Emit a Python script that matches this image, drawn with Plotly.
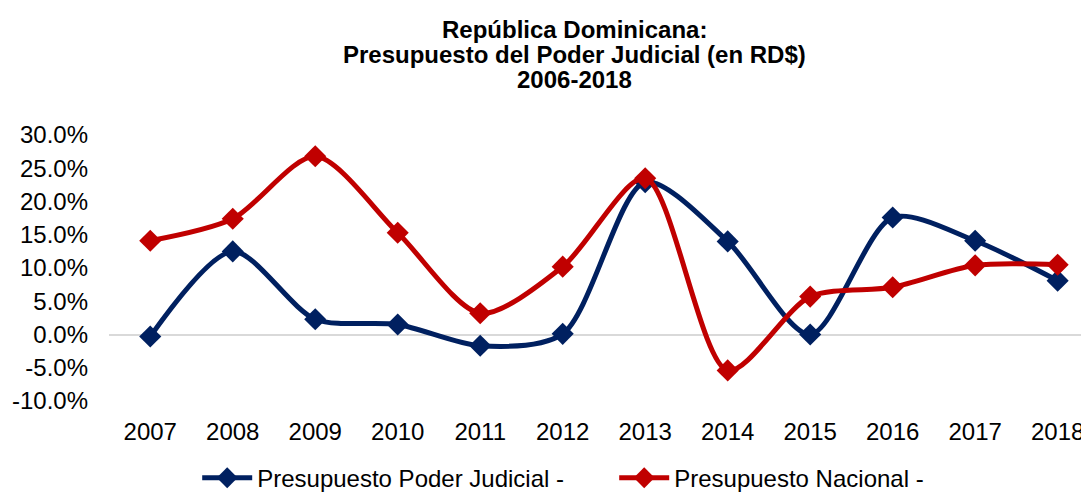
import plotly.graph_objects as go

years = ["2007", "2008", "2009", "2010", "2011", "2012", "2013", "2014", "2015", "2016", "2017", "2018"]
judicial = [-0.3, 12.5, 2.3, 1.5, -1.7, 0.1, 22.9, 14.0, 0.0, 17.6, 14.1, 8.1]
nacional = [14.1, 17.4, 26.8, 15.3, 3.2, 10.2, 23.5, -5.4, 5.7, 7.1, 10.4, 10.5]
y_ticks = [-10, -5, 0, 5, 10, 15, 20, 25, 30]
title_lines = ["República Dominicana:", "Presupuesto del Poder Judicial (en RD$)", "2006-2018"]

blue = "#002060"
red = "#C00000"
font = "Liberation Sans, Arial, sans-serif"

fig = go.Figure()
fig.add_trace(go.Scatter(
    x=years, y=judicial, name="Presupuesto Poder Judicial -",
    mode="lines+markers", line=dict(color=blue, width=5, shape="spline", smoothing=0.8),
    marker=dict(symbol="diamond", size=17, color=blue),
))
fig.add_trace(go.Scatter(
    x=years, y=nacional, name="Presupuesto Nacional -",
    mode="lines+markers", line=dict(color=red, width=5, shape="spline", smoothing=0.8),
    marker=dict(symbol="diamond", size=17, color=red),
))

for line, yy in zip(title_lines, [1.395, 1.301, 1.207]):
    fig.add_annotation(
        text=f"<b>{line}</b>", xref="paper", yref="paper", x=0.4755, y=yy,
        xanchor="center", yanchor="middle", showarrow=False,
        font=dict(family=font, size=24, color="black"),
    )

fig.update_layout(
    width=1081, height=485,
    paper_bgcolor="white", plot_bgcolor="white",
    margin=dict(l=101, r=0, t=127, b=92, autoexpand=False),
    font=dict(family=font, size=24, color="black"),
    showlegend=True,
    legend=dict(
        orientation="h", x=0.09, xanchor="left", y=-0.29, yanchor="middle",
        font=dict(family=font, size=24, color="black"),
        itemwidth=50, tracegroupgap=0, entrywidth=352, entrywidthmode="pixels",
    ),
    xaxis=dict(
        type="category", range=[-0.5, 11.38], automargin=False,
        showgrid=False, showline=False, zeroline=False,
        ticks="", ticklabelstandoff=14,
        tickfont=dict(family=font, size=24),
    ),
    yaxis=dict(
        range=[-10, 30], tickvals=y_ticks, automargin=False,
        ticktext=[f"{v:.1f}%" for v in y_ticks],
        showgrid=False, showline=False,
        zeroline=True, zerolinecolor="#D9D9D9", zerolinewidth=2,
        ticks="", ticklabelstandoff=20,
        tickfont=dict(family=font, size=24),
    ),
)

fig.write_html("out.html")
